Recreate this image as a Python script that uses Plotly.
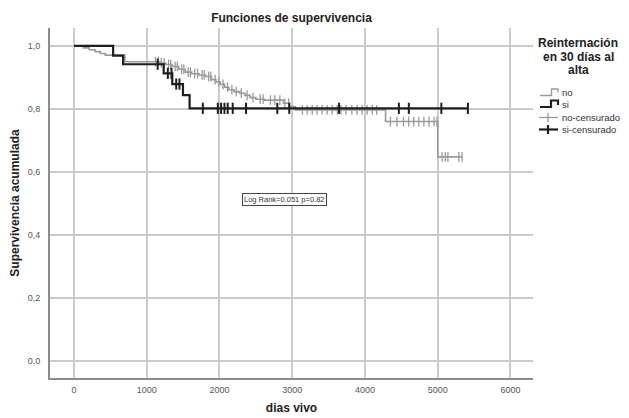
import numpy as np
import plotly.graph_objects as go

# ---------------- data ----------------
# group "no" (gray): event times (days) and survival level after each step
no_times = [0, 130, 210, 290, 360, 430, 700, 1180, 1260, 1350, 1440, 1530, 1620, 1720,
            1810, 1890, 1950, 2010, 2070, 2130, 2200, 2280, 2350, 2420, 2500, 2620,
            2880, 2960, 3040, 4283, 5000]
no_surv = [1.0, 0.994, 0.988, 0.982, 0.976, 0.971, 0.950, 0.946, 0.941, 0.935, 0.926,
           0.917, 0.912, 0.908, 0.903, 0.893, 0.886, 0.878, 0.869, 0.861, 0.855, 0.850,
           0.843, 0.836, 0.831, 0.828, 0.818, 0.808, 0.797, 0.760, 0.648]
no_end = 5335
no_censored = [1120, 1160, 1200, 1240, 1300, 1330, 1390, 1420, 1480, 1510, 1570, 1600,
               1660, 1700, 1760, 1790, 1850, 1880, 1940, 1990, 2050, 2110, 2170, 2230,
               2300, 2380, 2460, 2560, 2600, 2700, 2760, 2830, 2900, 2950,
               3140, 3205, 3275, 3340, 3410, 3480, 3550, 3620, 3670, 3740, 3820, 3890,
               3960, 4030, 4100, 4160,
               4350, 4440, 4530, 4600, 4670, 4740, 4810, 4880, 4950, 4990,
               5060, 5105, 5140, 5290, 5335]

# group "si" (black)
si_times = [0, 538, 675, 1233, 1351, 1498, 1589]
si_surv = [1.0, 0.969, 0.942, 0.913, 0.879, 0.844, 0.802]
si_end = 5415
si_censored = [1150, 1290, 1340, 1405, 1450, 1771, 1977, 2022, 2068, 2113, 2182, 2365,
               2795, 2959, 3644, 4466, 4603, 5050, 5415]

x_ticks = [0, 1000, 2000, 3000, 4000, 5000, 6000]
y_ticks = [0.0, 0.2, 0.4, 0.6, 0.8, 1.0]
log_rank_text = "Log Rank=0.051 p=0.82"
log_rank_pos = (2890, 0.514)

legend_title_lines = ["Reinternación", "en 30 días al", "alta"]
legend_labels = ["no", "si", "no-censurado", "si-censurado"]

GRAY = "#9a9a9a"
BLACK = "#1e1e1e"
FONT = "Liberation Sans, Arial, sans-serif"


def step_xy(times, surv, end):
    x = list(times) + [end]
    y = list(surv) + [surv[-1]]
    return x, y


def level_at(times, surv, t):
    idx = np.searchsorted(np.asarray(times), np.asarray(t), side="right") - 1
    return np.asarray(surv)[idx]


fig = go.Figure()

nx, ny = step_xy(no_times, no_surv, no_end)
fig.add_trace(go.Scatter(x=nx, y=ny, mode="lines", line_shape="hv",
                         line=dict(color=GRAY, width=1.6), name="no", showlegend=False))
fig.add_trace(go.Scatter(x=no_censored, y=level_at(no_times, no_surv, no_censored),
                         mode="markers", name="no-censurado", showlegend=False,
                         marker=dict(symbol="line-ns", size=7,
                                     line=dict(color=GRAY, width=1.3))))

sx, sy = step_xy(si_times, si_surv, si_end)
fig.add_trace(go.Scatter(x=sx, y=sy, mode="lines", line_shape="hv",
                         line=dict(color=BLACK, width=2.2), name="si", showlegend=False))
fig.add_trace(go.Scatter(x=si_censored, y=level_at(si_times, si_surv, si_censored),
                         mode="markers", name="si-censurado", showlegend=False,
                         marker=dict(symbol="line-ns", size=8,
                                     line=dict(color=BLACK, width=2))))

# page body has an 8px margin: figure coordinates = screen coordinates - 8
OFF = 8
W, H = 629 - OFF, 418 - OFF
L, R, T, B = 50 - OFF, 533 - OFF, 28 - OFF, 378 - OFF


def px(xs):
    return (xs - OFF - L) / (R - L)


def py(ys):
    return (B - (ys - OFF)) / (B - T)


shapes = []
annotations = []

# legend title (three centred lines)
for line, yy in zip(legend_title_lines, [43, 57, 70]):
    annotations.append(dict(x=px(578), y=py(yy), xref="paper", yref="paper",
                            text="<b>" + line + "</b>", showarrow=False,
                            xanchor="center", yanchor="middle",
                            font=dict(family=FONT, size=12, color="#222")))

# legend symbols
shapes.append(dict(type="path", xref="paper", yref="paper",
                   path="M {} {} L {} {} L {} {} L {} {} L {} {}".format(
                       px(540), py(95.5), px(551.5), py(95.5), px(551.5), py(89),
                       px(558), py(89), px(558), py(92.5)),
                   line=dict(color=GRAY, width=1.3)))
shapes.append(dict(type="path", xref="paper", yref="paper",
                   path="M {} {} L {} {} L {} {} L {} {} L {} {}".format(
                       px(540), py(107), px(551), py(107), px(551), py(100.5),
                       px(558), py(100.5), px(558), py(105)),
                   line=dict(color=BLACK, width=2.2)))
shapes.append(dict(type="line", xref="paper", yref="paper",
                   x0=px(539), x1=px(558), y0=py(117.5), y1=py(117.5),
                   line=dict(color=GRAY, width=1.3)))
shapes.append(dict(type="line", xref="paper", yref="paper",
                   x0=px(548), x1=px(548), y0=py(113), y1=py(122),
                   line=dict(color=GRAY, width=1.3)))
shapes.append(dict(type="line", xref="paper", yref="paper",
                   x0=px(539), x1=px(558), y0=py(129.5), y1=py(129.5),
                   line=dict(color=BLACK, width=2.2)))
shapes.append(dict(type="line", xref="paper", yref="paper",
                   x0=px(548), x1=px(548), y0=py(125), y1=py(134),
                   line=dict(color=BLACK, width=2.2)))

for lab, yy in zip(legend_labels, [92.5, 105, 117.5, 129.5]):
    annotations.append(dict(x=px(559.5), y=py(yy), xref="paper", yref="paper",
                            text=lab, showarrow=False, xanchor="left", yanchor="middle",
                            font=dict(family=FONT, size=9.5, color="#333")))

# log-rank box
annotations.append(dict(x=log_rank_pos[0], y=log_rank_pos[1], xref="x", yref="y",
                        text=log_rank_text, showarrow=False,
                        font=dict(family=FONT, size=7.5, color="#333"),
                        bgcolor="white", bordercolor="#444", borderwidth=1, borderpad=1))

fig.update_layout(
    width=W, height=H,
    margin=dict(l=L, r=W - R, t=T, b=H - B, autoexpand=False),
    paper_bgcolor="white", plot_bgcolor="white",
    separators=", ",
    title=dict(text="<b>Funciones de supervivencia</b>", x=0.5, xref="paper",
               y=1 - (18 - OFF) / H, yanchor="middle",
               font=dict(family=FONT, size=12, color="#222")),
    shapes=shapes, annotations=annotations,
    showlegend=False,
)

fig.update_xaxes(range=[-330, 6310], tickvals=x_ticks, tickformat="d",
                 showgrid=True, gridcolor="#cbcbcb", gridwidth=1.6, zeroline=False,
                 showline=True, linecolor="#8c8c8c", linewidth=2,
                 ticks="", ticklabelstandoff=2,
                 tickfont=dict(family=FONT, size=9, color="#555"),
                 title=dict(text="<b>dias vivo</b>", standoff=10,
                            font=dict(family=FONT, size=12, color="#222")))
fig.update_yaxes(range=[-0.054, 1.057], tickvals=y_ticks, tickformat=".1f",
                 showgrid=True, gridcolor="#cbcbcb", gridwidth=1.6, zeroline=False,
                 showline=True, linecolor="#8c8c8c", linewidth=2,
                 ticks="", ticklabelstandoff=6,
                 tickfont=dict(family=FONT, size=9, color="#555"),
                 title=dict(text="<b>Supervivencia acumulada</b>", standoff=5,
                            font=dict(family=FONT, size=12, color="#222")))

fig.write_html("out.html")
